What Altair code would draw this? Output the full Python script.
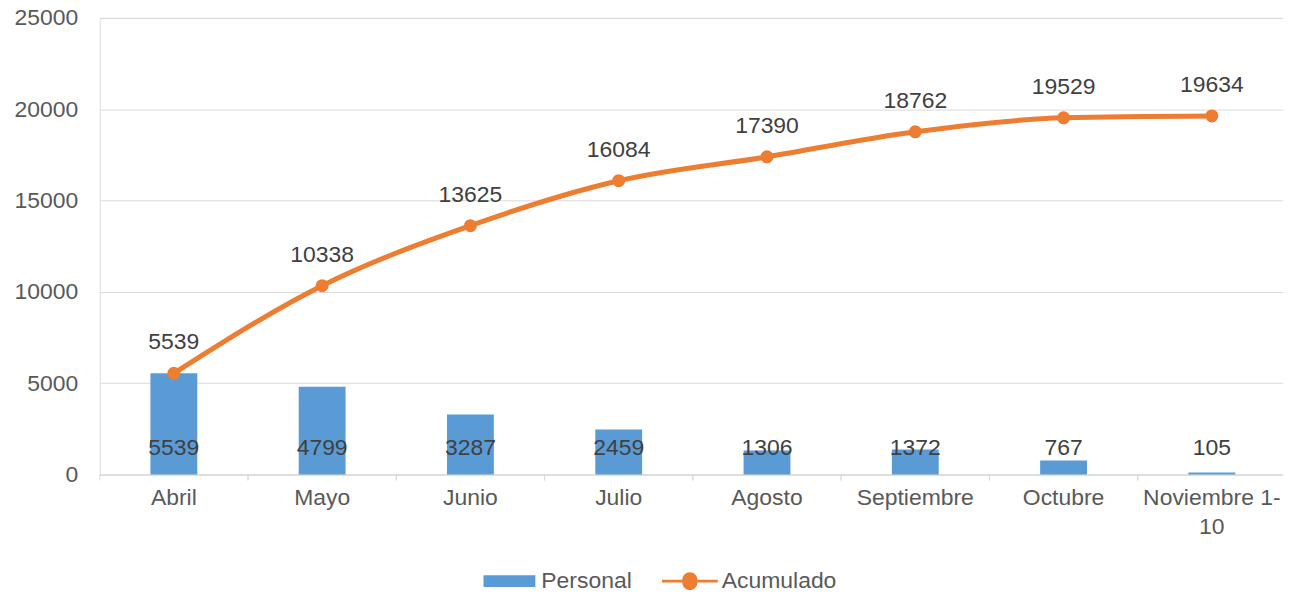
import altair as alt
import pandas as pd

meses = ["Abril", "Mayo", "Junio", "Julio", "Agosto", "Septiembre", "Octubre", "Noviembre 1-10"]
personal = [5539, 4799, 3287, 2459, 1306, 1372, 767, 105]
acumulado = [5539, 10338, 13625, 16084, 17390, 18762, 19529, 19634]
y_ticks = [0, 5000, 10000, 15000, 20000, 25000]

df = pd.DataFrame({
    "mes": meses,
    "personal": personal,
    "acumulado": acumulado,
    "serie_b": ["Personal"] * len(meses),
    "serie_l": ["Acumulado"] * len(meses),
})

FONT = "Liberation Sans"
AXIS_TXT = "#595959"
LBL_TXT = "#404040"
GRID = "#D9D9D9"
BLUE = "#5B9BD5"
ORANGE = "#ED7D31"
FS = 23

W, H = 1190, 458

xenc = alt.X(
    "mes:N",
    sort=meses,
    scale=alt.Scale(paddingInner=0, paddingOuter=0),
    axis=alt.Axis(
        title=None, labelAngle=0, ticks=False, domainColor=GRID, domainWidth=1,
        labelFont=FONT, labelFontSize=FS, labelColor=AXIS_TXT, labelPadding=12,
        labelLineHeight=29, labelBaseline="top",
        labelExpr="datum.value == 'Noviembre 1-10' ? ['Noviembre 1-', '10'] : datum.value",
    ),
)
yscale = alt.Scale(domain=[0, 25000])

base = alt.Chart(df)

bars = base.mark_bar(size=47).encode(
    x=xenc,
    y=alt.Y("personal:Q", scale=yscale, axis=alt.Axis(
        title=None, values=y_ticks, format="d", grid=True, gridColor=GRID, gridWidth=1,
        domain=False, ticks=False, labelFont=FONT, labelFontSize=FS, labelColor=AXIS_TXT,
        labelPadding=22,
    )),
    color=alt.Color("serie_b:N", scale=alt.Scale(domain=["Personal"], range=[BLUE]),
                    legend=alt.Legend(
                        title=None, orient="none", legendX=385, legendY=539,
                        symbolType="M-1,-0.23H1V0.23H-1Z", symbolSize=2704,
                        symbolStrokeWidth=0, labelFont=FONT, labelFontSize=FS,
                        labelColor=AXIS_TXT, labelOffset=6, padding=0, labelLimit=400,
                    )),
)

bar_labels = base.mark_text(font=FONT, fontSize=FS, color=LBL_TXT, baseline="middle", dy=-27).encode(
    x=alt.X("mes:N", sort=meses),
    y=alt.datum(0, scale=yscale),
    text=alt.Text("personal:Q", format="d"),
)

ticks0 = base.mark_rule(color=GRID, strokeWidth=1).encode(
    x=alt.X("mes:N", sort=meses, bandPosition=0),
    y=alt.value(H), y2=alt.value(H + 6),
)
ticks1 = base.mark_rule(color=GRID, strokeWidth=1).encode(
    x=alt.X("mes:N", sort=meses, bandPosition=1),
    y=alt.value(H), y2=alt.value(H + 6),
)

line = base.mark_line(interpolate="monotone", strokeWidth=5).encode(
    x=alt.X("mes:N", sort=meses),
    y=alt.Y("acumulado:Q", scale=yscale),
    color=alt.Color("serie_l:N", scale=alt.Scale(domain=["Acumulado"], range=[ORANGE]),
                    legend=alt.Legend(
                        title=None, orient="none", legendX=564, legendY=537,
                        symbolType="M-1,-0.045H-0.27A0.27,0.27 0 1,1 0.27,-0.045H1V0.045H0.27A0.27,0.27 0 1,1 -0.27,0.045H-1Z",
                        symbolSize=3136, symbolFillColor=ORANGE, symbolStrokeWidth=0,
                        labelFont=FONT, labelFontSize=FS, labelColor=AXIS_TXT,
                        labelOffset=4, padding=0, labelLimit=400,
                    )),
)

points = base.mark_circle(size=170, opacity=1, color=ORANGE).encode(
    x=alt.X("mes:N", sort=meses),
    y=alt.Y("acumulado:Q", scale=yscale),
)

line_labels = base.mark_text(font=FONT, fontSize=FS, color=LBL_TXT, baseline="middle", dy=-31).encode(
    x=alt.X("mes:N", sort=meses),
    y=alt.Y("acumulado:Q", scale=yscale),
    text=alt.Text("acumulado:Q", format="d"),
)

chart = alt.layer(
    bars, bar_labels, ticks0, ticks1, line, points, line_labels
).resolve_scale(color="independent").properties(
    width=W, height=H,
    autosize=alt.AutoSizeParams(type="none"),
    padding={"left": 92, "top": 9, "right": -3, "bottom": 120},
).configure_view(stroke=None).configure(background="white")

chart.save("out.html", embed_options={"renderer": "svg", "actions": False})
